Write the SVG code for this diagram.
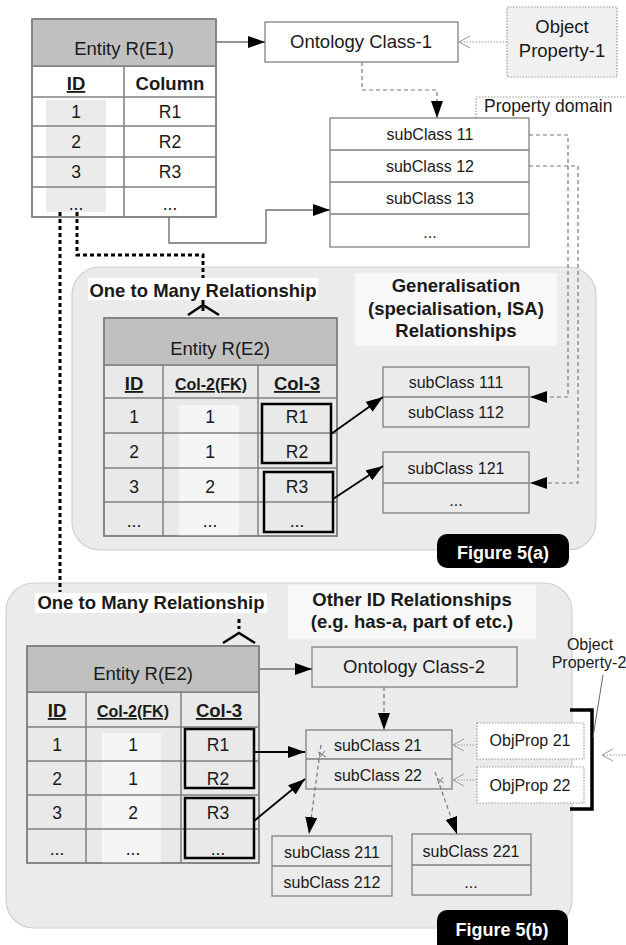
<svg xmlns="http://www.w3.org/2000/svg" width="626" height="945" viewBox="0 0 626 945">
<style>
text{font-family:"Liberation Sans",Arial,sans-serif;fill:#1a1a1a;text-anchor:middle}
.t18{font-size:18.5px}
.t17{font-size:17.5px}
.t16{font-size:16px}
.b{font-weight:bold}
.u{text-decoration:underline}
.cell{stroke:#808080;stroke-width:1.5}
.hdr{fill:#c0c0c0;stroke:#808080;stroke-width:1.5}
.box{fill:#ffffff;stroke:#808080;stroke-width:1.3}
.gbox{fill:#ebebeb;stroke:#808080;stroke-width:1.3}
.thick{fill:none;stroke:#000;stroke-width:2.5}
.dots{fill:none;stroke:#000;stroke-width:3;stroke-dasharray:4 3}
.dash{fill:none;stroke:#777;stroke-width:1.2;stroke-dasharray:4 3}
.dot{fill:none;stroke:#999;stroke-width:1.2;stroke-dasharray:1.5 1.5}
.thin{fill:none;stroke:#707070;stroke-width:1.4}
.blk{fill:none;stroke:#000;stroke-width:1.8}
.lab{fill:#000}
.labt{fill:#fff;font-weight:bold;font-size:18px}
</style>
<defs>
<marker id="ah" markerUnits="userSpaceOnUse" markerWidth="17" markerHeight="12" viewBox="0 0 17 12" refX="17" refY="6" orient="auto">
<path d="M0,0 L17,6 L0,12 z" fill="#000"/>
</marker>
<marker id="ao" markerUnits="userSpaceOnUse" markerWidth="12" markerHeight="14" viewBox="0 0 12 14" refX="11" refY="7" orient="auto">
<path d="M0,1 L11,7 L0,13" fill="none" stroke="#999" stroke-width="1"/>
</marker>
</defs>

<!-- panels -->
<g id="panel-a">
<rect x="72" y="267" width="524" height="283" rx="28" fill="#ebebeb" stroke="#cfcfcf" stroke-width="1.2"/>
</g>
<g id="panel-b">
<rect x="6" y="583" width="566" height="345" rx="28" fill="#ebebeb" stroke="#cfcfcf" stroke-width="1.2"/>
</g>

<!-- Entity R(E1) -->
<g id="entity-e1">
<rect x="32" y="66" width="184" height="151" fill="#fff" class="cell"/>
<rect x="46" y="100" width="60" height="112" fill="#ebebeb"/>
<rect x="32" y="19" width="184" height="47" class="hdr"/>
<path class="cell" d="M124,66 V217 M32,97 H216 M32,126 H216 M32,157 H216 M32,187 H216"/>
<rect x="32" y="19" width="184" height="198" fill="none" class="cell"/>
<text class="t18" x="124" y="55">Entity R(E1)</text>
<text class="t18 b u" x="76" y="90">ID</text>
<text class="t18 b" x="170" y="90">Column</text>
<text class="t17" x="76" y="118">1</text><text class="t17" x="170" y="118">R1</text>
<text class="t17" x="76" y="148">2</text><text class="t17" x="170" y="148">R2</text>
<text class="t17" x="76" y="178">3</text><text class="t17" x="170" y="178">R3</text>
<text class="t17" x="76" y="210">...</text><text class="t17" x="170" y="210">...</text>
</g>

<g id="ontology-class-1">
<rect x="265" y="22" width="193" height="40" class="box"/>
<text class="t18" x="361" y="48">Ontology Class-1</text>
</g>

<g id="object-property-1">
<rect x="507" y="7" width="110" height="70" fill="#f0f0f0" stroke="#999" stroke-width="1.2" stroke-dasharray="1.5 1.5"/>
<text class="t18" x="562" y="33">Object</text>
<text class="t18" x="562" y="57">Property-1</text>
</g>

<g id="subclass-1x">
<rect x="330" y="118" width="199" height="129" class="box"/>
<path class="cell" d="M330,150 H529 M330,182 H529 M330,214 H529"/>
<text class="t16" x="430" y="140">subClass 11</text>
<text class="t16" x="430" y="172">subClass 12</text>
<text class="t16" x="430" y="204">subClass 13</text>
<text class="t16" x="430" y="238">...</text>
</g>

<g id="property-domain">
<path class="dot" d="M476,118 V97 H626"/>
<text class="t17" x="484" y="112" style="text-anchor:start">Property domain</text>
</g>

<!-- Figure 5(a) contents -->
<g id="label-one-to-many-a">
<rect x="88" y="278" width="230" height="22" fill="#fff"/>
<text class="t18 b" x="203" y="297">One to Many Relationship</text>
</g>

<g id="label-generalisation">
<rect x="355" y="273" width="202" height="73" fill="#f8f8f8"/>
<text class="t18 b" x="456" y="292">Generalisation</text>
<text class="t18 b" x="456" y="315">(specialisation, ISA)</text>
<text class="t18 b" x="456" y="337">Relationships</text>
</g>

<g id="entity-e2-a">
<rect x="104" y="365" width="233" height="171" fill="#e9e9e9" class="cell"/>
<rect x="179" y="405" width="60" height="131" fill="#f5f5f5"/>
<rect x="104" y="318" width="233" height="47" class="hdr"/>
<path class="cell" d="M163,365 V536 M258,365 V536 M104,398 H337 M104,433 H337 M104,468 H337 M104,502 H337"/>
<rect x="104" y="318" width="233" height="218" fill="none" class="cell"/>
<text class="t18" x="220" y="355">Entity R(E2)</text>
<text class="t18 b u" x="134" y="390">ID</text>
<text class="t16 b u" x="211" y="390">Col-2(FK)</text>
<text class="t18 b u" x="297" y="390">Col-3</text>
<text class="t17" x="134" y="423">1</text><text class="t17" x="210" y="423">1</text><text class="t17" x="297" y="423">R1</text>
<text class="t17" x="134" y="458">2</text><text class="t17" x="210" y="458">1</text><text class="t17" x="297" y="458">R2</text>
<text class="t17" x="134" y="493">3</text><text class="t17" x="210" y="493">2</text><text class="t17" x="297" y="493">R3</text>
<text class="t17" x="134" y="527">...</text><text class="t17" x="210" y="527">...</text><text class="t17" x="297" y="527">...</text>
<rect x="262" y="404" width="69" height="59" class="thick"/>
<rect x="264" y="472" width="69" height="60" class="thick"/>
</g>

<g id="subclass-111">
<rect x="383" y="367" width="146" height="60" class="gbox"/>
<path class="cell" d="M383,397 H529"/>
<text class="t16" x="456" y="388">subClass 111</text>
<text class="t16" x="456" y="418">subClass 112</text>
</g>

<g id="subclass-121">
<rect x="383" y="452" width="146" height="61" class="gbox"/>
<path class="cell" d="M383,483 H529"/>
<text class="t16" x="456" y="474">subClass 121</text>
<text class="t16" x="456" y="506">...</text>
</g>

<g id="figure-5a">
<rect x="437" y="534" width="132" height="34" rx="10" class="lab"/>
<text class="labt" x="503" y="559">Figure 5(a)</text>
</g>

<!-- Figure 5(b) contents -->
<g id="label-one-to-many-b">
<rect x="35" y="593" width="232" height="20" fill="#fff"/>
<text class="t18 b" x="151" y="609">One to Many Relationship</text>
</g>

<g id="label-other-id">
<rect x="288" y="585" width="248" height="54" fill="#f8f8f8"/>
<text class="t18 b" x="412" y="606">Other ID Relationships</text>
<text class="t18 b" x="412" y="628">(e.g. has-a, part of etc.)</text>
</g>

<g id="entity-e2-b">
<rect x="27" y="692" width="232" height="171" fill="#e9e9e9" class="cell"/>
<rect x="102" y="733" width="59" height="130" fill="#f5f5f5"/>
<rect x="27" y="646" width="232" height="46" class="hdr"/>
<path class="cell" d="M86,692 V863 M181,692 V863 M27,727 H259 M27,761 H259 M27,795 H259 M27,829 H259"/>
<rect x="27" y="646" width="232" height="217" fill="none" class="cell"/>
<text class="t18" x="143" y="680">Entity R(E2)</text>
<text class="t18 b u" x="57" y="717">ID</text>
<text class="t16 b u" x="133" y="717">Col-2(FK)</text>
<text class="t18 b u" x="219" y="717">Col-3</text>
<text class="t17" x="57" y="751">1</text><text class="t17" x="133" y="751">1</text><text class="t17" x="218" y="751">R1</text>
<text class="t17" x="57" y="785">2</text><text class="t17" x="133" y="785">1</text><text class="t17" x="218" y="785">R2</text>
<text class="t17" x="57" y="819">3</text><text class="t17" x="133" y="819">2</text><text class="t17" x="218" y="819">R3</text>
<text class="t17" x="57" y="855">...</text><text class="t17" x="133" y="855">...</text><text class="t17" x="218" y="855">...</text>
<rect x="185" y="729" width="69" height="59" class="thick"/>
<rect x="185" y="798" width="69" height="60" class="thick"/>
</g>

<g id="ontology-class-2">
<rect x="312" y="647" width="205" height="40" class="gbox"/>
<text class="t18" x="414" y="673">Ontology Class-2</text>
</g>

<g id="subclass-21">
<rect x="306" y="730" width="146" height="59" class="gbox"/>
<path class="cell" d="M306,759 H452"/>
<text class="t16" x="378" y="751">subClass 21</text>
<text class="t16" x="378" y="781">subClass 22</text>
</g>

<g id="subclass-211">
<rect x="272" y="836" width="120" height="60" class="gbox"/>
<path class="cell" d="M272,866 H392"/>
<text class="t16" x="332" y="858">subClass 211</text>
<text class="t16" x="332" y="888">subClass 212</text>
</g>

<g id="subclass-221">
<rect x="412" y="834" width="119" height="61" class="gbox"/>
<path class="cell" d="M412,865 H531"/>
<text class="t16" x="471" y="857">subClass 221</text>
<text class="t16" x="471" y="888">...</text>
</g>

<g id="objprop-21">
<rect x="477" y="723" width="107" height="36" fill="#fff" stroke="#999" stroke-width="1.2" stroke-dasharray="1.5 1.5"/>
<text class="t16" x="530" y="746">ObjProp 21</text>
</g>

<g id="objprop-22">
<rect x="477" y="767" width="107" height="36" fill="#fff" stroke="#999" stroke-width="1.2" stroke-dasharray="1.5 1.5"/>
<text class="t16" x="530" y="791">ObjProp 22</text>
</g>

<g id="object-property-2">
<text class="t16" x="590" y="650">Object</text>
<text class="t16" x="589" y="668">Property-2</text>
<path d="M570,710 H592 V809 H570" fill="none" stroke="#000" stroke-width="3.5"/>
</g>

<g id="figure-5b">
<rect x="437" y="910" width="131" height="45" rx="10" class="lab"/>
<text class="labt" x="502" y="936">Figure 5(b)</text>
</g>

<!-- connectors -->
<g id="connectors">
<path class="thin" d="M216,42 H265" marker-end="url(#ah)"/>
<path class="dot" d="M507,42 H459" marker-end="url(#ao)"/>
<path class="dash" d="M362,62 V90 H437 V118" marker-end="url(#ah)"/>
<path class="thin" d="M169,217 V243 H266 V210 H330" marker-end="url(#ah)"/>
<path class="dash" d="M529,135 H568 V397 H530" marker-end="url(#ah)"/>
<path class="dash" d="M529,166 H578 V483 H530" marker-end="url(#ah)"/>
<path class="dots" d="M60,212 V592"/>
<path class="dots" d="M77,212 V255 H203 V278"/>
<path class="dots" d="M203,300 V311"/>
<path d="M188,315 L203,305 L219,315" fill="none" stroke="#000" stroke-width="2.5"/>
<path class="blk" d="M331,434 L383,397" marker-end="url(#ah)"/>
<path class="blk" d="M333,499 L383,466" marker-end="url(#ah)"/>
<path class="dots" d="M239,619 V629"/>
<path d="M223,643 L239,633 L255,643" fill="none" stroke="#000" stroke-width="2.5"/>
<path class="thin" d="M259,669 H312" marker-end="url(#ah)"/>
<path class="blk" d="M254,752 H305" marker-end="url(#ah)"/>
<path class="blk" d="M254,821 L305,779" marker-end="url(#ah)"/>
<path class="dash" d="M384,687 V730" marker-end="url(#ah)"/>
<path class="dash" d="M321,745 L309,834" marker-end="url(#ah)"/>
<path class="dash" d="M435,772 L457,834" marker-end="url(#ah)"/>
<path d="M318,752 L326,757 M319,758 L325,751 M437,778 L444,783 M438,784 L443,777" stroke="#777" stroke-width="1" fill="none"/>
<path class="dot" d="M477,745 H453" marker-end="url(#ao)"/>
<path class="dot" d="M477,780 H453" marker-end="url(#ao)"/>
<path d="M603,675 L593,737" stroke="#666" stroke-width="1" fill="none"/>
<path class="dot" d="M626,755 H602" marker-end="url(#ao)"/>
</g>
</svg>
